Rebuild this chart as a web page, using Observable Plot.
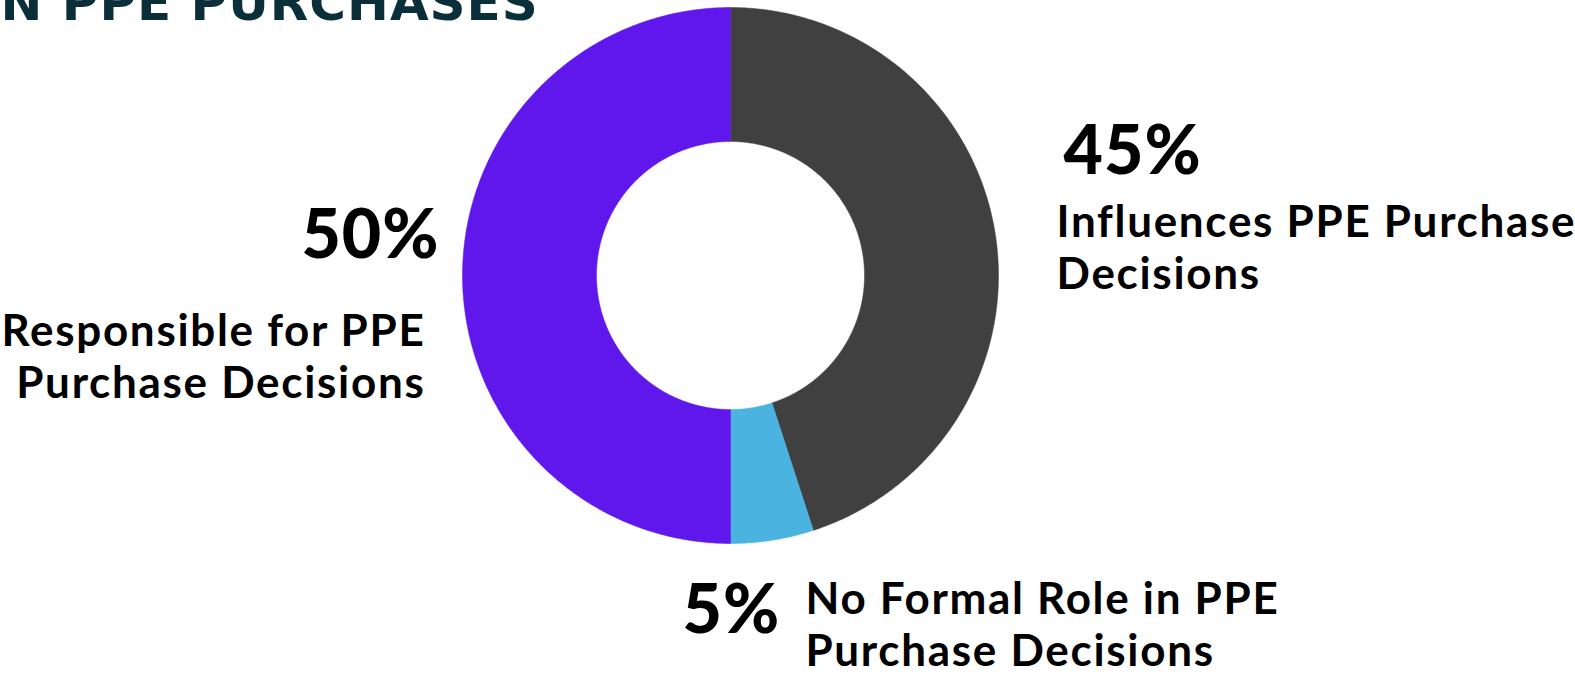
<!DOCTYPE html>
<html><head><meta charset="utf-8">
<script src="https://cdn.jsdelivr.net/npm/d3@7"></script>
<script src="https://cdn.jsdelivr.net/npm/@observablehq/plot@0.6"></script>
<style>
body{margin:0;background:#fff;overflow:hidden}
g[font-size="50"] text{letter-spacing:1px}
g[font-size="44"] text{letter-spacing:1.7px}
g[font-size="68"] text{letter-spacing:1px}
</style>
</head><body><div id="chart"></div>
<script>
// ---- data ----
const categories = [
  "Influences PPE Purchase Decisions",
  "No Formal Role in PPE Purchase Decisions",
  "Responsible for PPE Purchase Decisions"
];
const shares = [45, 5, 50];
const percentLabels = ["45%", "5%", "50%"];
const labelLines = [
  "Influences PPE Purchase\nDecisions",
  "No Formal Role in PPE\nPurchase Decisions",
  "Responsible for PPE\nPurchase Decisions"
];
const colors = ["#404040", "#4ab3e0", "#5f17ec"];
const titleText = "N PPE PURCHASES";

// ---- layout (pixels) ----
const W = 1575, H = 677;
const cx = 730, cy = 275, R = 268;
const innerRatio = 0.5;
const labelFont = "Lato, 'Noto Sans', sans-serif";
const layout = {
  "Influences PPE Purchase Decisions": {pct: {dx: 1063, dy: 173, anchor: "start"}, lab: {dx: 1056, dy: 288, anchor: "start"}},
  "No Formal Role in PPE Purchase Decisions": {pct: {dx: 682, dy: 632, anchor: "start"}, lab: {dx: 805, dy: 665, anchor: "start"}},
  "Responsible for PPE Purchase Decisions": {pct: {dx: 439, dy: 257, anchor: "end"}, lab: {dx: 425, dy: 397, anchor: "end"}}
};

// ---- build slice polygons from the pie layout ----
const arcs = d3.pie().sort(null).value(d => d)(shares);
const poly = [];
arcs.forEach((a, i) => {
  const cat = categories[i];
  const n = Math.max(2, Math.ceil((a.endAngle - a.startAngle) / (Math.PI / 360)));
  for (let k = 0; k <= n; k++) {
    const t = a.startAngle + (a.endAngle - a.startAngle) * k / n;
    poly.push({cat, x: Math.sin(t), y: Math.cos(t)});
  }
  for (let k = n; k >= 0; k--) {
    const t = a.startAngle + (a.endAngle - a.startAngle) * k / n;
    poly.push({cat, x: innerRatio * Math.sin(t), y: innerRatio * Math.cos(t)});
  }
  poly.push({cat, x: Math.sin(a.startAngle), y: Math.cos(a.startAngle)});
});

const textMarks = [];
categories.forEach((c, i) => {
  const L = layout[c];
  textMarks.push(Plot.text([percentLabels[i]], {
    text: d => d, frameAnchor: "top-left", dx: L.pct.dx, dy: L.pct.dy,
    textAnchor: L.pct.anchor, lineAnchor: "bottom",
    fontFamily: labelFont, fontWeight: 900, fontSize: 68, fill: "#000"
  }));
  textMarks.push(Plot.text([labelLines[i]], {
    text: d => d, frameAnchor: "top-left", dx: L.lab.dx, dy: L.lab.dy,
    textAnchor: L.lab.anchor, lineAnchor: "bottom", lineHeight: 52 / 44,
    fontFamily: labelFont, fontWeight: 700, fontSize: 44, fill: "#000"
  }));
});

const chart = Plot.plot({
  width: W, height: H,
  margin: 0,
  style: {background: "#fff", overflow: "hidden"},
  x: {domain: [-1, 1], range: [cx - R, cx + R], axis: null},
  y: {domain: [-1, 1], range: [cy + R, cy - R], axis: null},
  color: {domain: categories, range: colors},
  marks: [
    Plot.line(poly, {x: "x", y: "y", z: "cat", fill: "cat", stroke: "cat", strokeWidth: 0.5, curve: "linear"}),
    Plot.text([titleText], {
      text: d => d, frameAnchor: "top-left", dx: 0, dy: 19,
      textAnchor: "start", lineAnchor: "bottom",
      fontFamily: "DejaVu Sans", fontWeight: 700, fontSize: 50, fill: "#0a2e3a"
    }),
    ...textMarks
  ]
});
document.getElementById("chart").appendChild(chart);
</script>
</body></html>
